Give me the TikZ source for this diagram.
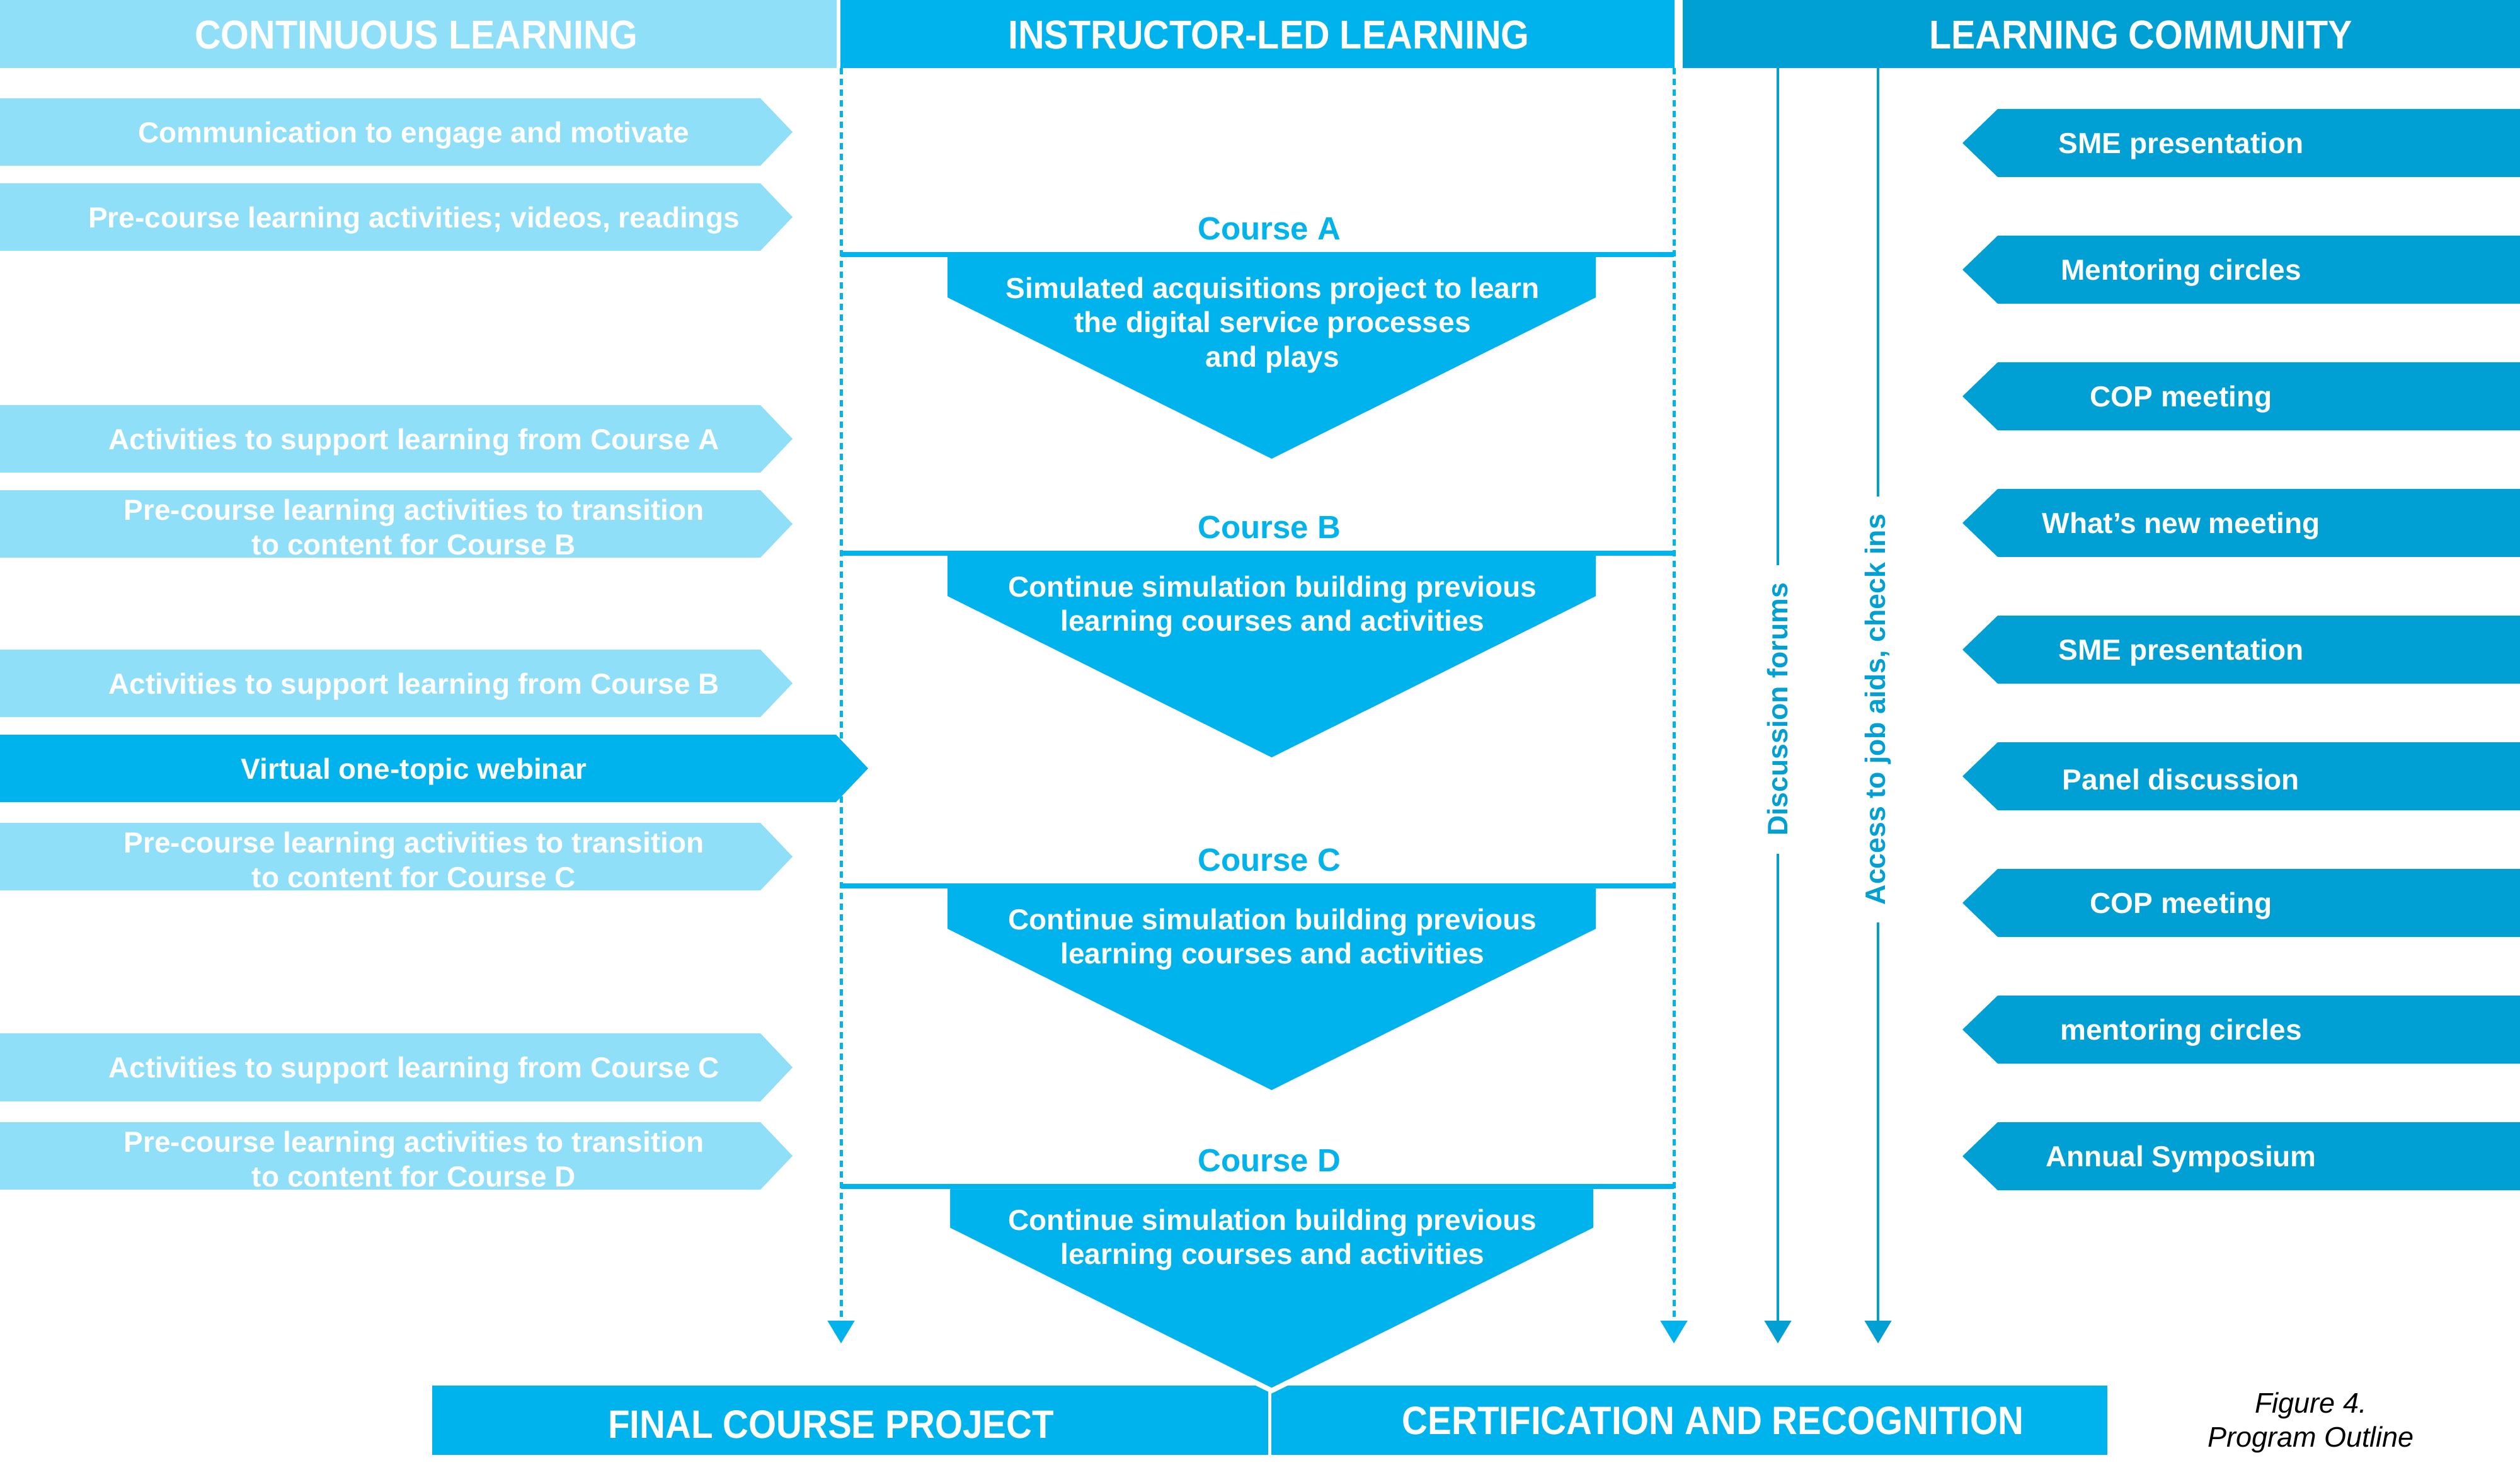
\documentclass[tikz,border=0pt]{standalone}
\usepackage{fontspec}
\setmainfont{Liberation Sans}
\newfontfamily\headfont{Liberation Sans}[FakeStretch=0.9]
\usetikzlibrary{arrows.meta}
\definecolor{clight}{HTML}{8FDFF8}
\definecolor{ccyan}{HTML}{00B3EC}
\definecolor{cdark}{HTML}{009FD4}
\begin{document}
\begin{tikzpicture}
    \tikzset{headtext/.style = {text=white, font=\headfont\bfseries\fontsize{18.2}{20}\selectfont}}
    \tikzset{boxtext/.style = {text=white, align=center, yshift=-0.05cm, font=\bfseries\fontsize{13.1}{15.4}\selectfont}}
    \tikzset{coursename/.style = {text=ccyan, font=\bfseries\fontsize{14.5}{17}\selectfont}}
    \tikzset{sidetext/.style = {text=cdark, rotate=90, fill=white, inner xsep=0.28cm, inner ysep=0.05cm, font=\bfseries\fontsize{12.7}{15}\selectfont}}
    \tikzset{bottext/.style = {text=white, font=\headfont\bfseries\fontsize{17.9}{20}\selectfont}}
    \tikzset{dashflow/.style = {ccyan, line width=0.05cm, dash pattern=on 0.1cm off 0.07cm, -{Triangle[width=0.42cm,length=0.36cm]}}}
    \tikzset{flow/.style = {cdark, line width=0.045cm, -{Triangle[width=0.42cm,length=0.36cm]}}}
    \tikzset{courseline/.style = {ccyan, line width=0.08cm}}
    \useasboundingbox (0,0) rectangle (40,-23.33);
    % column heads
    \fill[clight] (0,0) rectangle (13.28,-1.08);
    \fill[ccyan] (13.34,0) rectangle (26.58,-1.08);
    \fill[cdark] (26.71,0) rectangle (40,-1.08);
    \node[headtext] (conthead) at (6.61,-0.55) {CONTINUOUS LEARNING};
    \node[headtext] (instrhead) at (20.14,-0.55) {INSTRUCTOR-LED LEARNING};
    \node[headtext] (commhead) at (33.98,-0.55) {LEARNING COMMUNITY};
    % continuous learning
    \fill[clight] (0,-1.56) -- (12.07,-1.56) -- (12.58,-2.095) -- (12.07,-2.63) -- (0,-2.63) -- cycle;
    \fill[clight] (0,-2.91) -- (12.07,-2.91) -- (12.58,-3.445) -- (12.07,-3.98) -- (0,-3.98) -- cycle;
    \fill[clight] (0,-6.43) -- (12.07,-6.43) -- (12.58,-6.965) -- (12.07,-7.50) -- (0,-7.50) -- cycle;
    \fill[clight] (0,-7.78) -- (12.07,-7.78) -- (12.58,-8.315) -- (12.07,-8.85) -- (0,-8.85) -- cycle;
    \fill[clight] (0,-10.31) -- (12.07,-10.31) -- (12.58,-10.845) -- (12.07,-11.38) -- (0,-11.38) -- cycle;
    \fill[ccyan] (0,-11.66) -- (13.27,-11.66) -- (13.78,-12.195) -- (13.27,-12.73) -- (0,-12.73) -- cycle;
    \fill[clight] (0,-13.06) -- (12.07,-13.06) -- (12.58,-13.595) -- (12.07,-14.13) -- (0,-14.13) -- cycle;
    \fill[clight] (0,-16.40) -- (12.07,-16.40) -- (12.58,-16.94) -- (12.07,-17.48) -- (0,-17.48) -- cycle;
    \fill[clight] (0,-17.81) -- (12.07,-17.81) -- (12.58,-18.345) -- (12.07,-18.88) -- (0,-18.88) -- cycle;
    \node[boxtext] (comm) at (6.57,-2.095) {Communication to engage and motivate};
    \node[boxtext] (prevideo) at (6.57,-3.445) {Pre-course learning activities; videos, readings};
    \node[boxtext] (supa) at (6.57,-6.965) {Activities to support learning from Course A};
    \node[boxtext] (preb) at (6.57,-8.315) {Pre-course learning activities to transition\\to content for Course B};
    \node[boxtext] (supb) at (6.57,-10.845) {Activities to support learning from Course B};
    \node[boxtext] (webinar) at (6.57,-12.195) {Virtual one-topic webinar};
    \node[boxtext] (prec) at (6.57,-13.595) {Pre-course learning activities to transition\\to content for Course C};
    \node[boxtext] (supc) at (6.57,-16.94) {Activities to support learning from Course C};
    \node[boxtext] (pred) at (6.57,-18.345) {Pre-course learning activities to transition\\to content for Course D};
    % learning community
    \fill[cdark] (40,-1.73) -- (31.71,-1.73) -- (31.15,-2.27) -- (31.71,-2.81) -- (40,-2.81) -- cycle;
    \fill[cdark] (40,-3.74) -- (31.71,-3.74) -- (31.15,-4.28) -- (31.71,-4.82) -- (40,-4.82) -- cycle;
    \fill[cdark] (40,-5.75) -- (31.71,-5.75) -- (31.15,-6.29) -- (31.71,-6.83) -- (40,-6.83) -- cycle;
    \fill[cdark] (40,-7.76) -- (31.71,-7.76) -- (31.15,-8.30) -- (31.71,-8.84) -- (40,-8.84) -- cycle;
    \fill[cdark] (40,-9.77) -- (31.71,-9.77) -- (31.15,-10.31) -- (31.71,-10.85) -- (40,-10.85) -- cycle;
    \fill[cdark] (40,-11.78) -- (31.71,-11.78) -- (31.15,-12.32) -- (31.71,-12.86) -- (40,-12.86) -- cycle;
    \fill[cdark] (40,-13.79) -- (31.71,-13.79) -- (31.15,-14.33) -- (31.71,-14.87) -- (40,-14.87) -- cycle;
    \fill[cdark] (40,-15.80) -- (31.71,-15.80) -- (31.15,-16.34) -- (31.71,-16.88) -- (40,-16.88) -- cycle;
    \fill[cdark] (40,-17.81) -- (31.71,-17.81) -- (31.15,-18.35) -- (31.71,-18.89) -- (40,-18.89) -- cycle;
    \node[boxtext] (sme1) at (34.62,-2.27) {SME presentation};
    \node[boxtext] (ment1) at (34.62,-4.28) {Mentoring circles};
    \node[boxtext] (cop1) at (34.62,-6.29) {COP meeting};
    \node[boxtext] (whatsnew) at (34.62,-8.30) {What’s new meeting};
    \node[boxtext] (sme2) at (34.62,-10.31) {SME presentation};
    \node[boxtext] (panel) at (34.62,-12.32) {Panel discussion};
    \node[boxtext] (cop2) at (34.62,-14.33) {COP meeting};
    \node[boxtext] (ment2) at (34.62,-16.34) {mentoring circles};
    \node[boxtext] (symp) at (34.62,-18.35) {Annual Symposium};
    % final boxes
    \fill[ccyan] (6.86,-21.99) rectangle (20.13,-23.09);
    \fill[ccyan] (20.18,-21.99) rectangle (33.45,-23.09);
    \node[bottext] (final) at (13.19,-22.61) {FINAL COURSE PROJECT};
    \node[bottext] (cert) at (27.19,-22.55) {CERTIFICATION AND RECOGNITION};
    % flows down the page
    \coordinate (dl0) at (13.35,-1.08);
    \coordinate (dl1) at (13.35,-21.32);
    \coordinate (dr0) at (26.57,-1.08);
    \coordinate (dr1) at (26.57,-21.32);
    \coordinate (fa0) at (28.22,-1.08);
    \coordinate (fa1) at (28.22,-21.32);
    \coordinate (fb0) at (29.81,-1.08);
    \coordinate (fb1) at (29.81,-21.32);
    \draw[dashflow] (dl0) -- (dl1);
    \draw[dashflow] (dr0) -- (dr1);
    \draw[flow] (fa0) -- (fa1);
    \draw[flow] (fb0) -- (fb1);
    \node[sidetext] (forums) at (28.22,-11.26) {Discussion forums};
    \node[sidetext] (jobaids) at (29.81,-11.26) {Access to job aids, check ins};
    % courses
    \fill[ccyan] (15.04,-4.04) -- (25.33,-4.04) -- (25.33,-4.72) -- (20.185,-7.28) -- (15.04,-4.72) -- cycle;
    \fill[ccyan] (15.04,-8.78) -- (25.33,-8.78) -- (25.33,-9.46) -- (20.185,-12.02) -- (15.04,-9.46) -- cycle;
    \fill[ccyan] (15.04,-14.06) -- (25.33,-14.06) -- (25.33,-14.74) -- (20.185,-17.30) -- (15.04,-14.74) -- cycle;
    \filldraw[fill=ccyan, draw=white, line width=0.08cm] (15.04,-18.83) -- (25.33,-18.83) -- (25.33,-19.51) -- (20.185,-22.07) -- (15.04,-19.51) -- cycle;
    \draw[courseline] (13.35,-4.04) -- (26.57,-4.04);
    \draw[courseline] (13.35,-8.78) -- (26.57,-8.78);
    \draw[courseline] (13.35,-14.06) -- (26.57,-14.06);
    \draw[courseline] (13.35,-18.83) -- (26.57,-18.83);
    \node[coursename] (coursea) at (20.15,-3.63) {Course A};
    \node[coursename] (courseb) at (20.15,-8.37) {Course B};
    \node[coursename] (coursec) at (20.15,-13.65) {Course C};
    \node[coursename] (coursed) at (20.15,-18.42) {Course D};
    \node[boxtext] (texta) at (20.2,-5.11) {Simulated acquisitions project to learn\\the digital service processes\\and plays};
    \node[boxtext] (textb) at (20.2,-9.58) {Continue simulation building previous\\learning courses and activities};
    \node[boxtext] (textc) at (20.2,-14.86) {Continue simulation building previous\\learning courses and activities};
    \node[boxtext] (textd) at (20.2,-19.63) {Continue simulation building previous\\learning courses and activities};
    % caption
    \node[align=center, font=\itshape\fontsize{12.8}{15.4}\selectfont] (caption) at (36.68,-22.58) {Figure 4.\\Program Outline};
\end{tikzpicture}
\end{document}
